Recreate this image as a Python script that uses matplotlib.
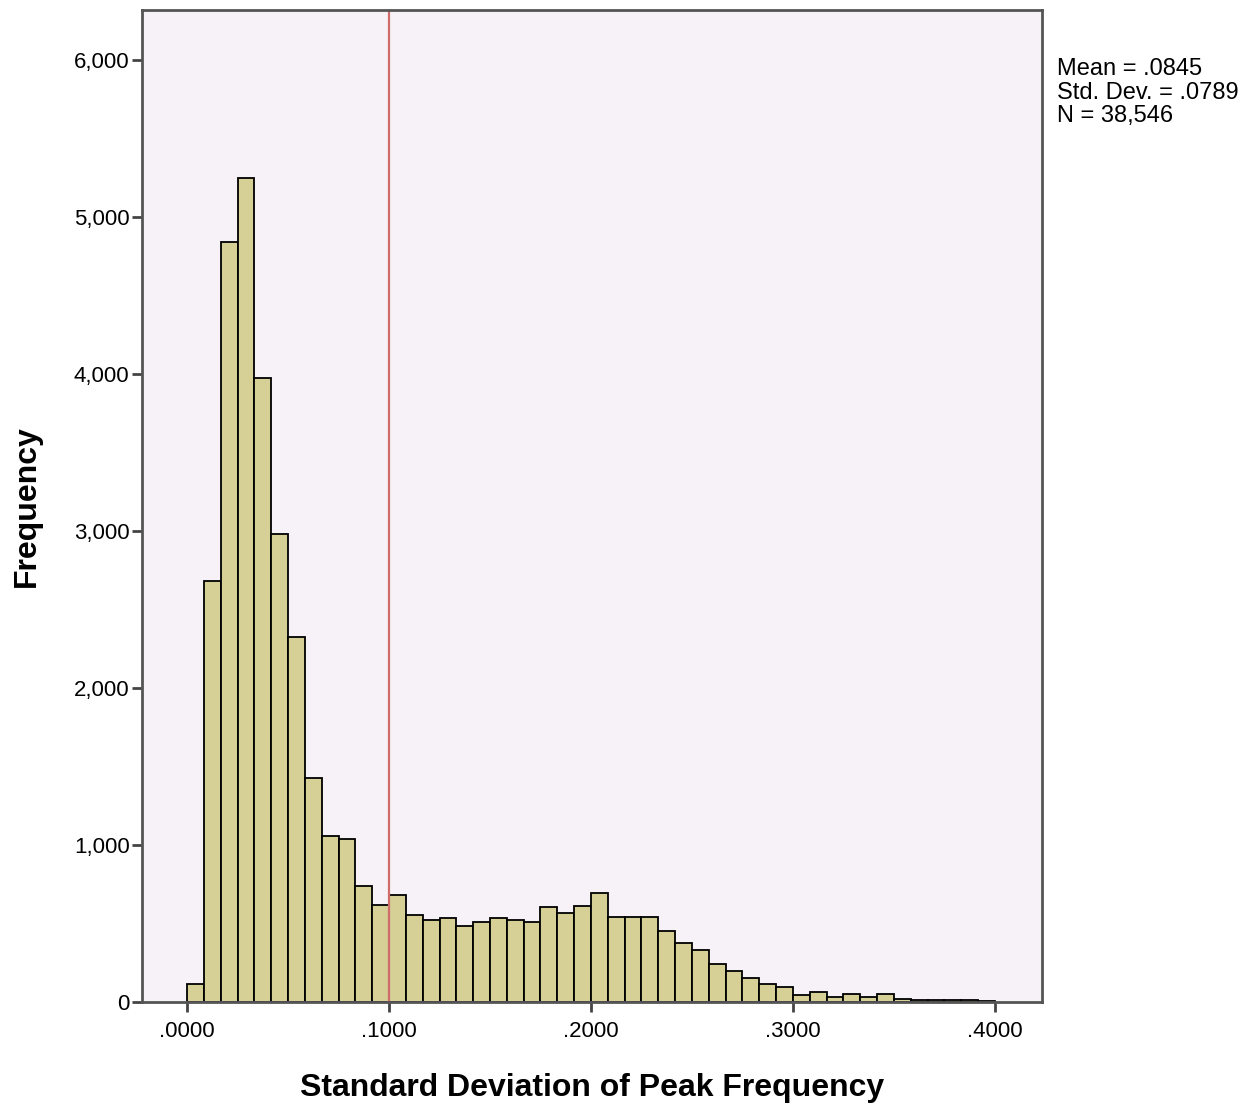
import numpy as np
import matplotlib
matplotlib.use("Agg")
import matplotlib.pyplot as plt
from matplotlib.ticker import FuncFormatter

# Histogram data, 48 bins of width 1/120 from 0 to 0.4
bin_start = 0.0
bin_width = 1 / 120
counts = [
    115, 2680, 4840, 5245, 3975, 2980, 2325, 1425, 1055, 1040, 738, 618,
    684, 556, 520, 537, 482, 507, 537, 524, 507, 605, 567, 614,
    696, 541, 541, 541, 450, 377, 333, 244, 200, 153, 115, 95,
    47, 66, 32, 53, 34, 53, 21, 15, 13, 11, 10, 8,
]
x_ticks = [0.0, 0.1, 0.2, 0.3, 0.4]
x_tick_labels = [".0000", ".1000", ".2000", ".3000", ".4000"]
y_ticks = [0, 1000, 2000, 3000, 4000, 5000, 6000]
ref_line = 0.1
stats_text = "Mean = .0845\nStd. Dev. = .0789\nN = 38,546"

plt.rcParams["font.family"] = ["Liberation Sans", "DejaVu Sans"]

fig = plt.figure(figsize=(12.6, 11.1), dpi=100)
ax = fig.add_axes([142 / 1260, 1 - 1002 / 1110, 900 / 1260, 992 / 1110])
ax.set_facecolor("#F7F2F7")

edges = bin_start + bin_width * np.arange(len(counts))
ax.bar(edges, counts, width=bin_width, align="edge",
       color="#D6CF96", edgecolor="black", linewidth=1.3)
ax.axvline(ref_line, color="#CF6B6B", linewidth=1.6)

ax.set_xlim(-0.0223, 0.4233)
ax.set_ylim(0, 6318)
ax.set_xticks(x_ticks)
ax.set_xticklabels(x_tick_labels)
ax.set_yticks(y_ticks)
ax.yaxis.set_major_formatter(FuncFormatter(lambda v, p: f"{int(v):,}"))

ax.tick_params(axis="both", direction="out", length=7, width=2,
               color="#444444", labelsize=16)
ax.tick_params(axis="x", pad=7)
ax.tick_params(axis="y", pad=2)
for spine in ax.spines.values():
    spine.set_color("#555555")
    spine.set_linewidth(2)

ax.set_xlabel("Standard Deviation of Peak Frequency", fontsize=23,
              fontweight="bold", labelpad=22)
ax.set_ylabel("Frequency", fontsize=23, fontweight="bold", labelpad=23)

fig.text(1057 / 1260, 1 - 58 / 1110, stats_text, fontsize=17,
         va="top", ha="left", linespacing=1.1)

fig.savefig("out.png", dpi=100)
